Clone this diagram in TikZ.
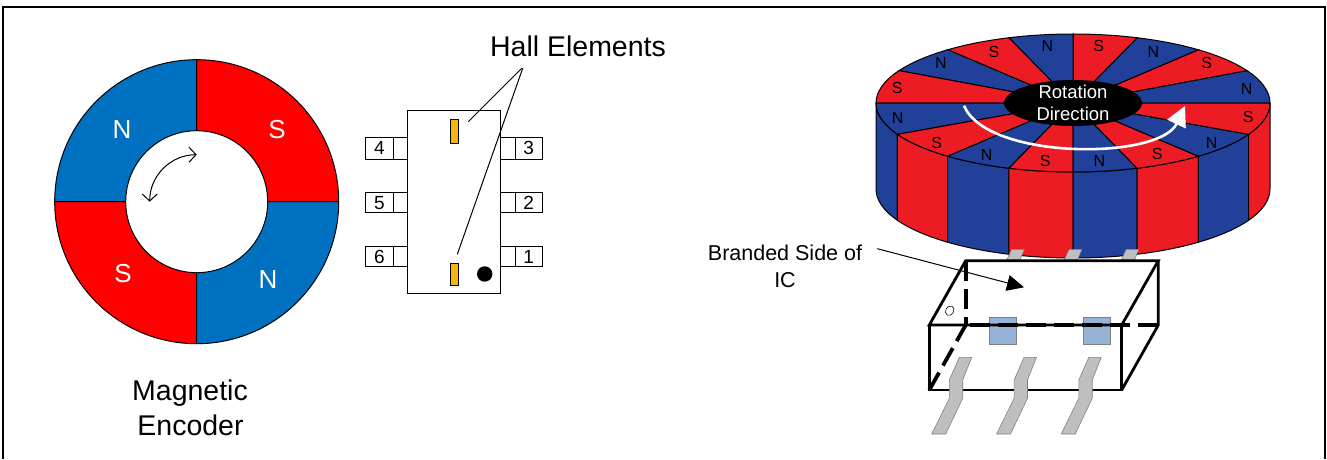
\documentclass[tikz,border=0pt]{standalone}
\usepackage{fontspec}
\setmainfont{Liberation Sans}
\usetikzlibrary{positioning,arrows.meta,shapes.geometric}
\definecolor{ringblue}{HTML}{0070C0}
\definecolor{ringred}{HTML}{FF0000}
\definecolor{discblue}{HTML}{21409A}
\definecolor{discred}{HTML}{ED1C24}
\definecolor{hallorange}{HTML}{F9B50F}
\definecolor{leadgrey}{HTML}{BFBFBF}
\definecolor{padblue}{HTML}{95B3D7}
\begin{document}
\begin{tikzpicture}[x=1pt,y=1pt,line width=1pt,
    bigtext/.style={font=\fontsize{28.5}{34}\selectfont,inner sep=0pt},
    ringtext/.style={font=\fontsize{26}{30}\selectfont,text=white,inner sep=0pt},
    pintext/.style={draw,inner sep=0pt,font=\fontsize{19}{20}\selectfont},
    polelabel/.style={font=\fontsize{16}{18}\selectfont,inner sep=0pt,text=black},
    hallbox/.style={draw,fill=hallorange,minimum width=8pt,inner sep=0pt},
    leadpoly/.style={fill=leadgrey,draw=gray,line width=0.6pt},
    padbox/.style={draw=gray,fill=padblue,minimum size=27pt,inner sep=0pt},
    boxedge/.style={line width=2.8pt,line join=miter},
    boxdash/.style={line width=3.8pt,dash pattern=on 20pt off 8pt}]
  \useasboundingbox (0,0) rectangle (1327,459);
  \draw[line width=1.2pt] (3,0) -- (3,452) -- (1325,452) -- (1325,0);

  % encoder ring
  \begin{scope}[shift={(196.7,257.3)}]
    \foreach \a/\b/\c in {0/90/ringred,90/180/ringblue,180/270/ringred,270/360/ringblue}{
      \draw[fill=\c] (0,0) -- (\a:142) arc[start angle=\a,end angle=\b,radius=142] -- cycle;
    }
    \node[circle,draw,fill=white,minimum size=142pt,inner sep=0pt](hole) at (0,0){};
    \draw[{Straight Barb[length=7pt,width=15pt]}-{Straight Barb[length=7pt,width=15pt]}] (0,47) arc[start angle=90,end angle=180,radius=47];
  \end{scope}
  \node[ringtext](ringN1) at (122,329){N};
  \node[ringtext](ringS1) at (277,329){S};
  \node[ringtext](ringS2) at (123,185){S};
  \node[ringtext](ringN2) at (268,179){N};
  \node[bigtext,anchor=base](magnetic) at (190,59){Magnetic};
  \node[bigtext,anchor=base](encoder) at (190.5,24){Encoder};

  % top view of the IC
  \foreach \n/\y/\h in {4/310.8/21.7,5/256.2/19.7,6/202.3/20}{
    \node[pintext,minimum width=27.6pt,minimum height=\h pt](pin\n) at (379.5,\y){\n};
    \node[draw,inner sep=0pt,minimum width=14pt,minimum height=\h pt](stub\n) at (400.3,\y){};
  }
  \foreach \n/\y/\h in {3/310.8/21.7,2/256.2/19.7,1/202.3/20}{
    \node[pintext,minimum width=27.3pt,minimum height=\h pt](pin\n) at (528.7,\y){\n};
    \node[draw,inner sep=0pt,minimum width=14.3pt,minimum height=\h pt](stub\n) at (507.9,\y){};
  }
  \node[draw,fill=white,minimum width=93.4pt,minimum height=182.6pt,inner sep=0pt](body) at (454,257){};
  \node[hallbox,minimum height=24pt](hallA) at (454,327.7){};
  \node[hallbox,minimum height=22pt](hallB) at (454,185){};
  \node[circle,fill=black,minimum size=15.4pt,inner sep=0pt](dot) at (484.7,185){};
  \node[bigtext,anchor=base](hall) at (578,402.3){Hall Elements};
  \coordinate (apexA) at (521.7,390.7);
  \coordinate (apexB) at (522.7,390.7);
  \coordinate (endA) at (468.3,337.3);
  \coordinate (endB) at (457.3,204.7);
  \draw (apexA) -- (endA);
  \draw (apexB) -- (endB);

  % magnet disc
  \begin{scope}[shift={(1073,356)}]
    \foreach \a/\b/\c in {-180/-153/discblue,-153/-129.5/discred,-129.5/-109/discblue,-109/-90/discred,-90/-71/discblue,-71/-50.5/discred,-50.5/-27/discblue,-27/0/discred}{
      \draw[fill=\c] (\a:197 and 69) arc[start angle=\a,end angle=\b,x radius=197,y radius=69] -- ++(0,-86)
        arc[start angle=\b,end angle=\a,x radius=197,y radius=69] -- cycle;
    }
    \foreach \a/\b/\c in {0/28/discblue,28/50.5/discred,50.5/71/discblue,71/90/discred,90/109/discblue,109/129.5/discred,129.5/152/discblue,152/180/discred,180/207/discblue,207/230.5/discred,230.5/251/discblue,251/270/discred,270/289/discblue,289/309.5/discred,309.5/333/discblue,333/360/discred}{
      \draw[fill=\c] (0,0) -- (\a:197 and 69) arc[start angle=\a,end angle=\b,x radius=197,y radius=69] -- cycle;
    }
  \end{scope}
  \foreach \t/\x/\y in {N/1047.3/413,S/1098.7/413,N/1153.3/407.3,S/1206.7/395.7,N/1246.7/370,S/1248.3/341.7,N/1211.7/316.3,S/1157.3/304.7,N/1099.3/298.3,S/1045.3/298.3,N/986.7/304,S/936.7/316.3,N/897.7/341.3,S/897.3/371.3,N/941/395.7,S/994/407.3}{
    \node[polelabel] at (\x,\y){\t};
  }
  \node[ellipse,fill=black,minimum width=138pt,minimum height=46pt,inner sep=0pt](hub) at (1073,356){};
  \node[align=center,text=white,inner sep=0pt,font=\fontsize{18.5}{21.7}\selectfont](rotation) at (hub){Rotation\\Direction};
  \coordinate (rotStart) at (964,353.3);
  \coordinate (rotEnd) at (1185,353);
  \draw[white,line width=2.6pt,-{Triangle[length=20pt,width=20pt]}] (rotStart) .. controls (986.7,298.7) and (1159.3,298.7) .. (rotEnd);

  % leads behind the package
  \foreach \s in {0,57.5,114.5}{
    \draw[leadpoly,xshift=\s pt] (1011.7,209.7) -- (1024.3,209.7) -- (1020,199) -- (1006.7,199) -- cycle;
  }
  % package in 3d
  \node[padbox](padA) at (1003,128.2){};
  \node[padbox](padB) at (1096.7,128.2){};
  \coordinate (backL) at (965.7,198.3);
  \coordinate (backR) at (1158.3,198.3);
  \coordinate (frontL) at (929.3,134);
  \coordinate (frontR) at (1121.7,134);
  \coordinate (lowL) at (929.3,69);
  \coordinate (lowR) at (1121.7,69);
  \coordinate (midR) at (1158.3,134);
  \coordinate (midL) at (965.7,134);
  \draw[boxedge] (backL) -- (backR) -- (frontR) -- (frontL) -- cycle;
  \draw[boxedge] (frontL) -- (lowL) -- (lowR) -- (frontR);
  \draw[boxedge] (lowR) -- (midR) -- (backR);
  \draw[boxdash] (backL) -- (midL);
  \draw[boxdash] (midR) -- (midL);
  \draw[boxdash] (lowL) -- (midL);
  \node[ellipse,draw,fill=white,rotate=60,minimum width=10pt,minimum height=8pt,inner sep=0pt,line width=0.6pt](notch) at (949.7,148.3){};
  \foreach \s in {0,64.8,129.5}{
    \draw[leadpoly,xshift=\s pt] (959.3,101.7) -- (971.7,101.7) -- (962.7,79) -- (962.7,60.7) -- (945.7,25) -- (931.7,25) -- (949.3,60.7) -- (949.3,79) -- cycle;
  }
  \node[align=center,inner sep=0pt,font=\fontsize{21.5}{27}\selectfont](branded) at (785,192.5){Branded Side of\\IC};
  \coordinate (brandStart) at (877.3,210.3);
  \coordinate (brandEnd) at (1024,171.7);
  \draw[-{Triangle[length=17pt,width=16pt]}] (brandStart) -- (brandEnd);
\end{tikzpicture}
\end{document}
